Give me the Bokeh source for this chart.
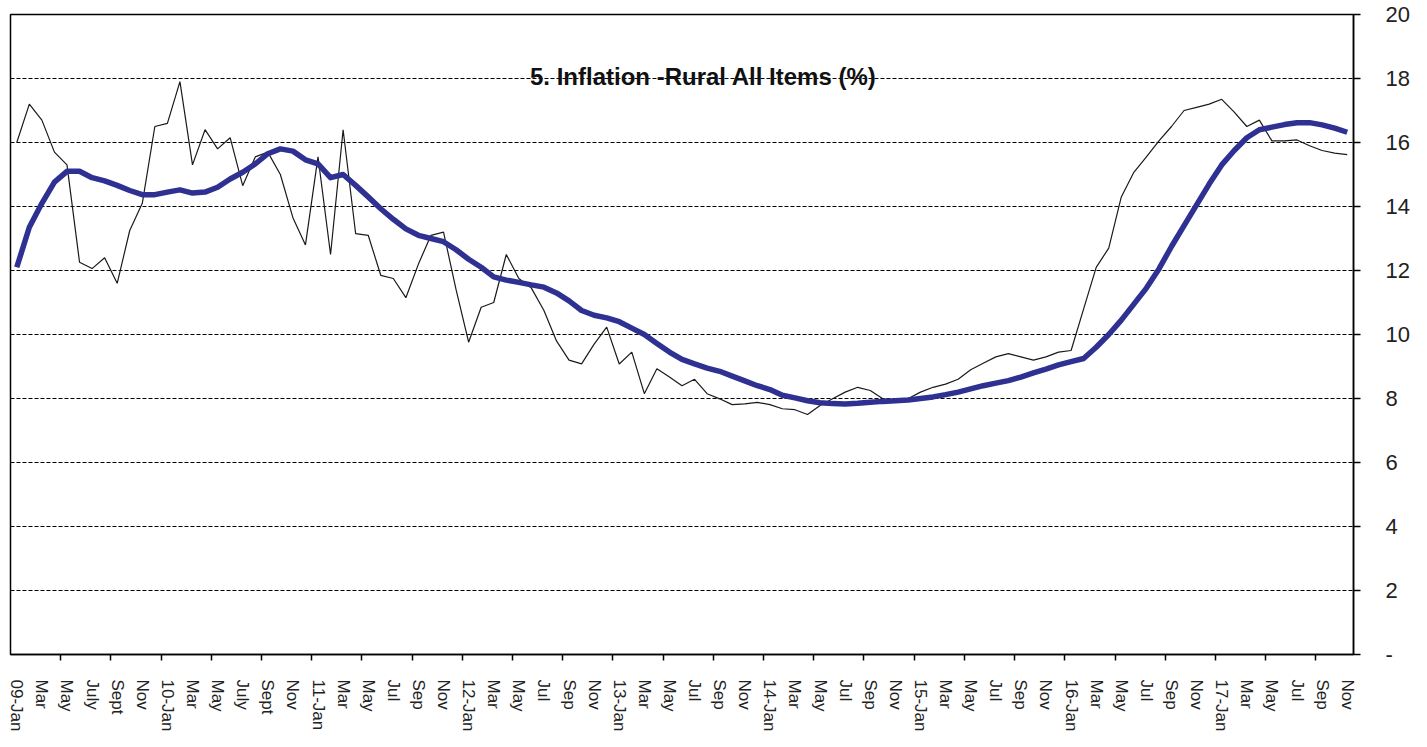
from bokeh.plotting import figure
from bokeh.models import Range1d, FixedTicker, Label
from bokeh.embed import file_html
from bokeh.resources import INLINE
from bokeh.core.properties import value

# Monthly rural inflation, all items (%), Jan 2009 .. Nov 2017
inflation = [
    16.0, 17.2, 16.7, 15.7, 15.3, 12.26, 12.06, 12.4, 11.6, 13.25, 14.1, 16.5,
    16.6, 17.9, 15.3, 16.4, 15.8, 16.15, 14.65, 15.55, 15.7, 15.0, 13.65, 12.8,
    15.55, 12.5, 16.4, 13.15, 13.1, 11.85, 11.75, 11.15, 12.2, 13.1, 13.2, 11.4,
    9.76, 10.85, 11.0, 12.5, 11.75, 11.45, 10.75, 9.8, 9.2, 9.08, 9.7, 10.23,
    9.08, 9.45, 8.15, 8.93, 8.67, 8.4, 8.6, 8.15, 7.99, 7.81, 7.83, 7.88,
    7.81, 7.68, 7.65, 7.5, 7.78, 7.99, 8.2, 8.35, 8.25, 7.99, 7.94, 7.99,
    8.2, 8.35, 8.45, 8.6, 8.9, 9.1, 9.3, 9.4, 9.3, 9.2, 9.3, 9.45,
    9.5, 10.8, 12.1, 12.7, 14.3, 15.07, 15.55, 16.05, 16.5, 17.0, 17.1, 17.2,
    17.35, 16.95, 16.5, 16.7, 16.05, 16.05, 16.08, 15.9, 15.75, 15.67, 15.62,
]

# 12-month moving average (%)
moving_avg = [
    12.1, 13.35, 14.1, 14.76, 15.1, 15.1, 14.9, 14.8, 14.66, 14.5, 14.37, 14.37,
    14.45, 14.52, 14.42, 14.45, 14.6, 14.86, 15.07, 15.33, 15.65, 15.8, 15.73, 15.46,
    15.33, 14.9, 15.0, 14.66, 14.3, 13.93, 13.6, 13.3, 13.1, 13.0, 12.9, 12.65,
    12.35, 12.1, 11.8, 11.7, 11.63, 11.55, 11.48, 11.3, 11.05, 10.75, 10.6, 10.52,
    10.4, 10.2, 10.0, 9.72, 9.45, 9.22, 9.08, 8.95, 8.85, 8.7, 8.55, 8.4,
    8.28, 8.1, 8.02, 7.93, 7.87, 7.84, 7.83, 7.85, 7.88, 7.91, 7.93, 7.95,
    8.0, 8.05, 8.12, 8.2, 8.3, 8.4, 8.48, 8.56, 8.67, 8.8, 8.92, 9.05,
    9.15, 9.25, 9.6, 10.0, 10.45, 10.95, 11.45, 12.05, 12.75, 13.4, 14.05, 14.7,
    15.3, 15.75, 16.15, 16.4, 16.48, 16.56, 16.62, 16.62, 16.55, 16.45, 16.32,
]

# Category labels, one for every second month
x_labels = [
    "09-Jan", "Mar", "May", "July", "Sept", "Nov",
    "10-Jan", "Mar", "May", "July", "Sept", "Nov",
    "11-Jan", "Mar", "May", "Jul", "Sep", "Nov",
    "12-Jan", "Mar", "May", "Jul", "Sep", "Nov",
    "13-Jan", "Mar", "May", "Jul", "Sep", "Nov",
    "14-Jan", "Mar", "May", "Jul", "Sep", "Nov",
    "15-Jan", "Mar", "May", "Jul", "Sep", "Nov",
    "16-Jan", "Mar", "May", "Jul", "Sep", "Nov",
    "17-Jan", "Mar", "May", "Jul", "Sep", "Nov",
]

y_ticks = [0, 2, 4, 6, 8, 10, 12, 14, 16, 18, 20]
y_labels = ["-", "2", "4", "6", "8", "10", "12", "14", "16", "18", "20"]

title_text = "5. Inflation -Rural All Items (%)"

n = len(inflation)
x = list(range(n))

p = figure(
    width=1419, height=739,
    output_backend="svg", toolbar_location=None,
    x_range=Range1d(-0.5, n - 0.5), y_range=Range1d(0, 20),
    y_axis_location="right",
    min_border_left=10, min_border_top=14, min_border_right=66, min_border_bottom=85,
    background_fill_color="white", border_fill_color="white",
)
p.outline_line_color = "black"
p.outline_line_width = 1.5

# x axis: labels every 2 months, tick marks every 4 months at category boundaries
label_pos = [2 * k for k in range(len(x_labels))]
tick_marks = [4 * k - 0.5 for k in range(1, n // 4 + 1)]
p.xaxis.ticker = FixedTicker(ticks=label_pos, minor_ticks=tick_marks)
p.xaxis.major_label_overrides = {pos: lab for pos, lab in zip(label_pos, x_labels)}
p.xaxis.major_label_orientation = "vertical"
p.xaxis.major_tick_out = 0
p.xaxis.major_tick_in = 0
p.xaxis.minor_tick_out = 6
p.xaxis.minor_tick_in = 0
p.xaxis.minor_tick_line_color = "black"
p.xaxis.minor_tick_line_width = 1.5
p.xaxis.axis_line_color = "black"
p.xaxis.axis_line_width = 1.5
p.xaxis.major_label_standoff = 19
p.xaxis.major_label_text_font = "Liberation Sans"
p.xaxis.major_label_text_font_size = "17px"
p.xaxis.major_label_text_color = "#222222"

# y axis on right
p.yaxis.ticker = FixedTicker(ticks=y_ticks, minor_ticks=[])
p.yaxis.major_label_overrides = {t: lab for t, lab in zip(y_ticks, y_labels)}
p.yaxis.major_tick_out = 7
p.yaxis.major_tick_in = 0
p.yaxis.major_tick_line_color = "black"
p.yaxis.major_tick_line_width = 1.5
p.yaxis.minor_tick_out = 0
p.yaxis.axis_line_color = "black"
p.yaxis.axis_line_width = 1.5
p.yaxis.major_label_standoff = 25
p.yaxis.major_label_text_font = "Liberation Sans"
p.yaxis.major_label_text_font_size = "22px"
p.yaxis.major_label_text_color = "#222222"

p.xgrid.visible = False
p.ygrid.grid_line_color = "black"
p.ygrid.grid_line_dash = "4 2"
p.ygrid.grid_line_width = 1

p.line(x, inflation, line_color="#1a1a1a", line_width=1.2)
p.line(x, moving_avg, line_color="#2E3192", line_width=5.5, line_join="round")

title = Label(
    x=54.7, y=18.05, text=title_text,
    text_font="Liberation Sans",
    text_font_style="bold", text_font_size="24px",
    text_align="center", text_baseline="alphabetic", text_color="#111111",
)
p.add_layout(title)

open("out.html", "w").write(file_html(p, INLINE))
